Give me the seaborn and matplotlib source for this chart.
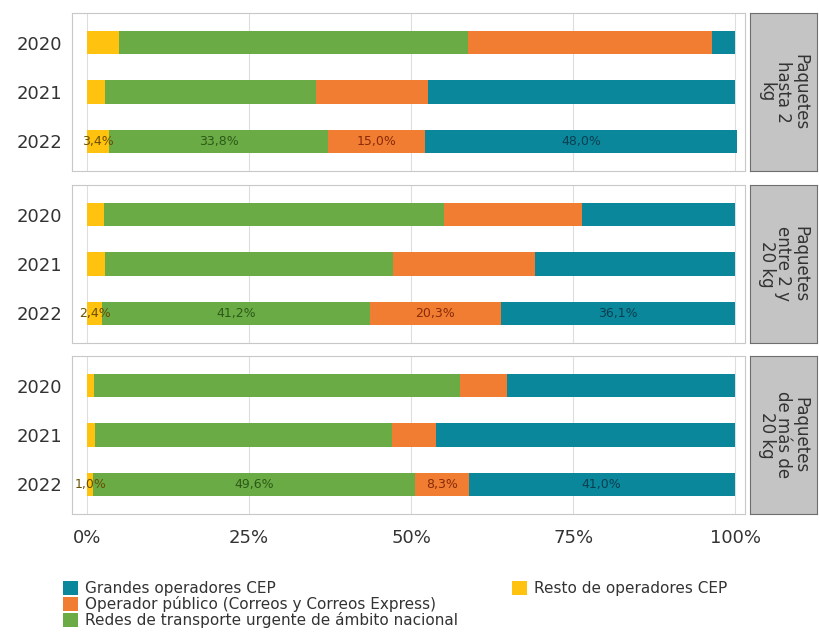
import matplotlib
matplotlib.use("Agg")
import matplotlib.pyplot as plt
import matplotlib.patches as mpatches
import seaborn as sns
import numpy as np
import pandas as pd

# Data: share (%) per panel, year and operator group
years = ["2020", "2021", "2022"]
panels = ["Paquetes\nhasta 2\nkg", "Paquetes\nentre 2 y\n20 kg", "Paquetes\nde más de\n20 kg"]
series = ["Resto de operadores CEP",
          "Redes de transporte urgente de ámbito nacional",
          "Operador público (Correos y Correos Express)",
          "Grandes operadores CEP"]

resto = [[5.0, 2.8, 3.4], [2.6, 2.8, 2.4], [1.1, 1.2, 1.0]]
redes = [[53.8, 32.5, 33.8], [52.4, 44.4, 41.2], [56.5, 45.8, 49.6]]
publico = [[37.6, 17.3, 15.0], [21.4, 21.9, 20.3], [7.2, 6.9, 8.3]]
grandes = [[3.6, 47.4, 48.0], [23.6, 30.9, 36.1], [35.2, 46.1, 41.0]]

colors = {series[0]: "#FFC20E", series[1]: "#6AAB45",
          series[2]: "#F07D32", series[3]: "#0A879B"}
label_colors = {series[0]: "#6b4e00", series[1]: "#2c5a16",
                series[2]: "#8a2a08", series[3]: "#0a3f50"}

sns.set_theme(style="white")
plt.rcParams["font.family"] = ["DejaVu Sans"]

fig = plt.figure(figsize=(8.19, 6.38), dpi=100)
W, H = 819, 638

def fx(px):
    return px / W

def fy(px):
    return 1 - px / H

panel_tops = [13, 185, 356]
panel_h = 158
left, right = 72, 745
strip_l, strip_r = 750, 817

for p in range(3):
    top = panel_tops[p]
    ax = fig.add_axes([fx(left), fy(top + panel_h), fx(right - left), panel_h / H])
    df = pd.DataFrame({
        "year": years,
        series[0]: resto[p],
        series[1]: redes[p],
        series[2]: publico[p],
        series[3]: grandes[p],
    })
    cum = df[series].cumsum(axis=1)
    # draw from the longest cumulative bar down so shorter ones sit on top
    for s in reversed(series):
        sns.barplot(x=cum[s], y=df["year"], color=colors[s], orient="h",
                    width=0.48, saturation=1, ax=ax, linewidth=0)
    # value labels for 2022
    i = 2
    for s in series:
        end = cum[s].iloc[i]
        val = df[s].iloc[i]
        ax.text(end - val / 2, i, f"{val:.1f}%".replace(".", ","),
                ha="center", va="center", fontsize=9, color=label_colors[s])
    ax.set_xlim(-2.3, 101.5)
    ax.set_ylim(2.6, -0.6)
    ax.set_xticks([0, 25, 50, 75, 100])
    ax.grid(axis="x", color="#dedede", linewidth=0.8)
    ax.set_axisbelow(True)
    ax.set_xlabel("")
    ax.set_ylabel("")
    ax.tick_params(axis="y", labelsize=13, colors="#333333", length=0, pad=7)
    ax.tick_params(axis="x", labelsize=13, colors="#333333", length=0, pad=11)
    if p < 2:
        ax.set_xticklabels([])
    else:
        ax.set_xticklabels(["0%", "25%", "50%", "75%", "100%"])
    for sp in ax.spines.values():
        sp.set_color("#c8c8c8")
        sp.set_linewidth(0.8)

    # facet strip on the right
    sax = fig.add_axes([fx(strip_l), fy(top + panel_h), fx(strip_r - strip_l), panel_h / H])
    sax.set_facecolor("#c4c4c4")
    sax.set_xticks([])
    sax.set_yticks([])
    for sp in sax.spines.values():
        sp.set_color("#6e6e6e")
        sp.set_linewidth(0.8)
    sax.text(0.5, 0.5, panels[p], rotation=270, ha="center", va="center",
             fontsize=12, color="#333333", linespacing=0.9, transform=sax.transAxes)

# legend: three entries in first column, one in second
def handles(names):
    return [mpatches.Patch(facecolor=colors[n], edgecolor="none", label=n) for n in names]

leg_kw = dict(frameon=False, fontsize=11, handlelength=1.0, handleheight=1.0,
              handletextpad=0.45, labelspacing=0.0, borderaxespad=0, borderpad=0,
              labelcolor="#333333")
fig.legend(handles=handles([series[3], series[2], series[1]]),
           loc="upper left", bbox_to_anchor=(fx(63), fy(581)), **leg_kw)
fig.legend(handles=handles([series[0]]),
           loc="upper left", bbox_to_anchor=(fx(512), fy(581)), **leg_kw)

fig.savefig("out.png", dpi=100)
